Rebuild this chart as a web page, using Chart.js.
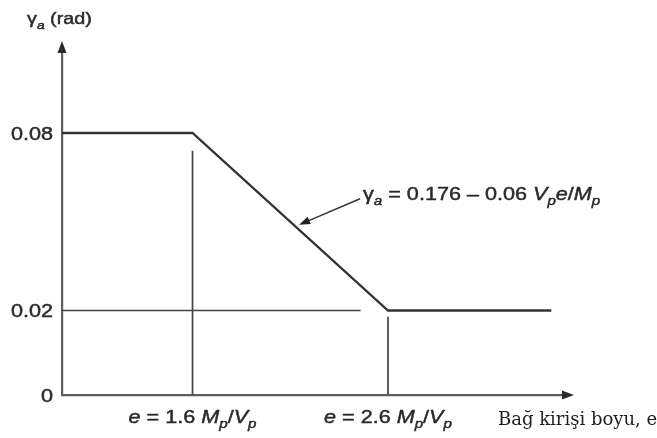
<!DOCTYPE html>
<html>
<head>
<meta charset="utf-8">
<script src="https://cdn.jsdelivr.net/npm/chart.js@4.4.0/dist/chart.umd.min.js"></script>
<style>
  html, body { margin: 0; padding: 0; background: #fff; }
  canvas { display: block; }
</style>
</head>
<body>
<canvas id="gammaChart" width="657" height="438"></canvas>
<script>
// === DATA (e in units of Mp/Vp, gamma in rad) ===
const curveE = [0, 1.6, 2.6, 3.44];
const curveGamma = [0.08, 0.08, 0.02, 0.02];
const refLowE = [0, 2.46];
const refLowGamma = [0.02, 0.02];
const ref16E = [1.6, 1.6];
const ref16Gamma = [0, 0.074];
const ref26E = [2.6, 2.6];
const ref26Gamma = [0, 0.0185];
const yTicks = [0, 0.02, 0.08];
const yTickLabels = ['0', '0.02', '0.08'];
const xTicks = [1.6, 2.6];
const xTickLabels = ['1.6', '2.6'];
const arrowAtE = 2.145; // where the formula arrow points on the curve

// schematic drawing: axes are not linear, so map value -> fraction of axis
const scaleBreaks = {
  x: [[0, 0], [1.6, 0.2605], [2.6, 0.6507], [3.5, 1]],
  y: [[0, 0], [0.02, 0.2449], [0.08, 0.7594], [0.108, 1]]
};

function interp(pairs, v, from, to) {
  let i = 0;
  while (i < pairs.length - 2 && v > pairs[i + 1][from]) i++;
  const a = pairs[i], b = pairs[i + 1];
  return a[to] + (v - a[from]) * (b[to] - a[to]) / (b[from] - a[from]);
}

class BrokenScale extends Chart.LinearScale {
  getPixelForValue(value) {
    if (value === null || value === undefined) return NaN;
    return this.getPixelForDecimal(interp(scaleBreaks[this.axis], value, 0, 1));
  }
  getValueForPixel(pixel) {
    return interp(scaleBreaks[this.axis], this.getDecimalForPixel(pixel), 1, 0);
  }
}
BrokenScale.id = 'broken';
BrokenScale.defaults = Chart.LinearScale.defaults;
Chart.register(BrokenScale);

function points(xs, ys) {
  return xs.map((x, i) => ({ x: x, y: ys[i] }));
}

// text with italics and subscripts, a bit wide like the scanned figure
const STRETCH = 1.2;
const SANS = '"Liberation Sans", Arial, sans-serif';
function drawRich(ctx, segs, x, y, align, size) {
  ctx.save();
  ctx.translate(x, y);
  ctx.scale(STRETCH, 1);
  const parts = segs.map(([t, st]) => {
    const sub = !!st && st.includes('s');
    const ital = !!st && st.includes('i');
    const sz = sub ? size * 0.7 : size;
    const font = (ital ? 'italic ' : '') + sz + 'px ' + SANS;
    ctx.font = font;
    return { t: t, font: font, dy: sub ? size * 0.28 : 0, w: ctx.measureText(t).width };
  });
  const total = parts.reduce((a, p) => a + p.w, 0);
  let cx = align === 'right' ? -total : align === 'center' ? -total / 2 : 0;
  ctx.textAlign = 'left';
  ctx.textBaseline = 'alphabetic';
  ctx.fillStyle = '#2a2a2a';
  ctx.strokeStyle = '#2a2a2a';
  ctx.lineWidth = 0.45;
  parts.forEach(p => {
    ctx.font = p.font;
    ctx.fillText(p.t, cx, p.dy);
    ctx.strokeText(p.t, cx, p.dy);
    cx += p.w;
  });
  ctx.restore();
}

function triangle(ctx, tipX, tipY, dirX, dirY, len, half) {
  const bx = tipX - dirX * len, by = tipY - dirY * len;
  ctx.beginPath();
  ctx.moveTo(tipX, tipY);
  ctx.lineTo(bx - dirY * half, by + dirX * half);
  ctx.lineTo(bx + dirY * half, by - dirX * half);
  ctx.closePath();
  ctx.fill();
}

const decorations = {
  id: 'decorations',
  afterDraw(chart) {
    const ctx = chart.ctx;
    const area = chart.chartArea;
    const xs = chart.scales.x, ys = chart.scales.y;
    ctx.save();
    ctx.strokeStyle = '#666';
    ctx.lineWidth = 2;

    // axis arrows
    ctx.beginPath();
    ctx.moveTo(area.left, area.top);
    ctx.lineTo(area.left, area.top - 2);
    ctx.moveTo(area.right, area.bottom);
    ctx.lineTo(area.right + 2, area.bottom);
    ctx.stroke();
    ctx.fillStyle = '#2a2a2a';
    triangle(ctx, area.left, area.top - 9, 0, -1, 12, 4.5);
    triangle(ctx, area.right + 11, area.bottom, 1, 0, 12, 4.5);

    // y tick labels
    yTicks.forEach((v, i) => {
      drawRich(ctx, [[yTickLabels[i]]], area.left - 9, ys.getPixelForValue(v) + 6.5, 'right', 18);
    });

    // x tick labels
    xTicks.forEach((v, i) => {
      drawRich(ctx, [['e', 'i'], [' = ' + xTickLabels[i] + ' '], ['M', 'i'], ['p', 'is'], ['/'], ['V', 'i'], ['p', 'is']],
        xs.getPixelForValue(v), area.bottom + 28, 'center', 18);
    });

    // axis titles
    drawRich(ctx, [['γ'], ['a', 'is'], [' (rad)']], 27, 24, 'left', 16.5);
    ctx.font = '18px "DejaVu Serif", serif';
    ctx.fillStyle = '#1e1e1e';
    ctx.textAlign = 'left';
    ctx.textBaseline = 'alphabetic';
    ctx.fillText('Bağ kirişi boyu, e', 498, area.bottom + 30);

    // formula with arrow to the sloped part
    const pts = chart.getDatasetMeta(0).data;
    const p1 = pts[1], p2 = pts[2];
    const tx = xs.getPixelForValue(arrowAtE);
    const t = (tx - p1.x) / (p2.x - p1.x);
    const tipX = tx, tipY = p1.y + t * (p2.y - p1.y) - 5;
    const tailX = tipX + 61, tailY = tipY - 26;
    ctx.strokeStyle = '#333';
    ctx.lineWidth = 1.4;
    ctx.beginPath();
    ctx.moveTo(tailX, tailY);
    ctx.lineTo(tipX + 8, tipY - 3.4);
    ctx.stroke();
    const len = Math.hypot(tipX - tailX, tipY - tailY);
    ctx.fillStyle = '#222';
    triangle(ctx, tipX, tipY, (tipX - tailX) / len, (tipY - tailY) / len, 11, 4);
    drawRich(ctx, [['γ'], ['a', 'is'], [' = 0.176 – 0.06 '], ['V', 'i'], ['p', 'is'], ['e', 'i'], ['/'], ['M', 'i'], ['p', 'is']],
      tailX + 3, tailY + 1, 'left', 18);
    ctx.restore();
  }
};

const ctxGamma = document.getElementById('gammaChart').getContext('2d');
window.gammaChart = new Chart(ctxGamma, {
  type: 'line',
  data: {
    datasets: [
      { data: points(curveE, curveGamma), borderColor: '#333', borderWidth: 2.3 },
      { data: points(refLowE, refLowGamma), borderColor: '#444', borderWidth: 1.7 },
      { data: points(ref16E, ref16Gamma), borderColor: '#444', borderWidth: 1.7 },
      { data: points(ref26E, ref26Gamma), borderColor: '#555', borderWidth: 1.9 }
    ]
  },
  options: {
    responsive: false,
    animation: false,
    layout: { padding: { top: 50, right: 94, left: 0, bottom: 0 } },
    elements: { point: { radius: 0 }, line: { tension: 0 } },
    plugins: { legend: { display: false }, tooltip: { enabled: false } },
    scales: {
      x: {
        type: 'broken', min: 0, max: 3.5,
        grid: { display: false },
        ticks: { display: false },
        border: { color: '#5e5e5e', width: 2.2 },
        afterFit: s => { s.height = 43; }
      },
      y: {
        type: 'broken', min: 0, max: 0.108,
        grid: { display: false },
        ticks: { display: false },
        border: { color: '#5e5e5e', width: 2.2 },
        afterFit: s => { s.width = 62; }
      }
    }
  },
  plugins: [decorations]
});
</script>
</body>
</html>
